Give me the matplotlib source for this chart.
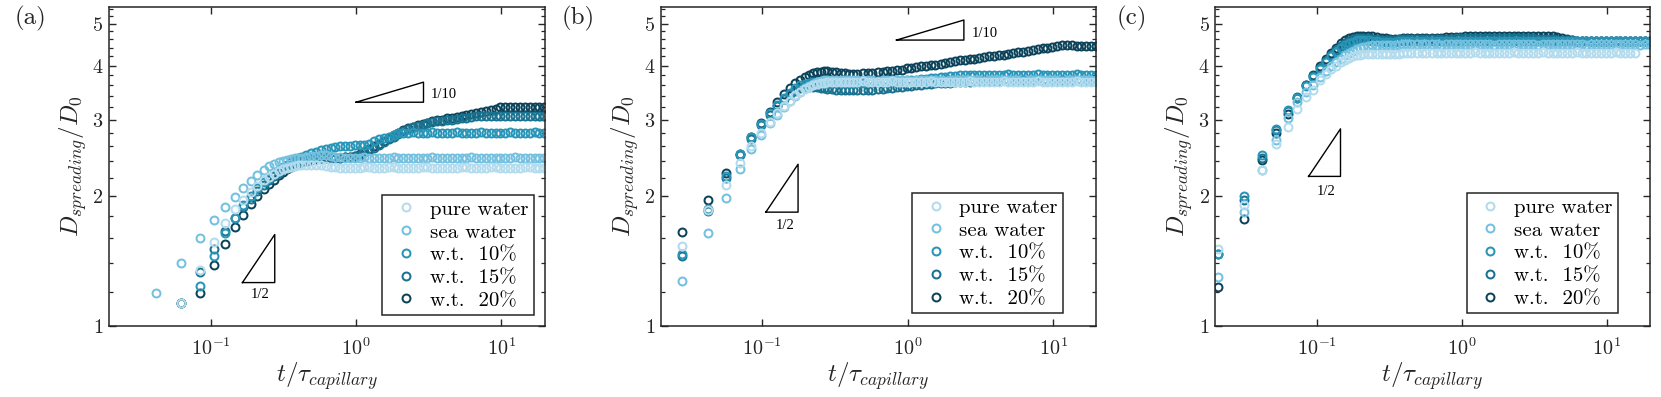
import numpy as np
import matplotlib
matplotlib.use('Agg')
import matplotlib.pyplot as plt
from matplotlib.ticker import FixedLocator, FuncFormatter, NullFormatter, NullLocator

plt.rcParams['mathtext.fontset'] = 'cm'
plt.rcParams['font.family'] = 'serif'
plt.rcParams['font.serif'] = ['cmr10', 'DejaVu Serif']
plt.rcParams['axes.formatter.use_mathtext'] = True

nan = float('nan')

labels = ['pure water', 'sea water', 'w.t.  10%', 'w.t.  15%', 'w.t.  20%']
colors = ['#b3dbee', '#74c0df', '#2795b8', '#19728f', '#0b435b']

# shared late-time grid (t / tau_capillary)
t_tail = [0.45, 0.49, 0.53, 0.57, 0.62, 0.67, 0.72, 0.78, 0.84, 0.91,
          0.98, 1.06, 1.14, 1.23, 1.33, 1.44, 1.55, 1.68, 1.81, 1.95,
          2.11, 2.28, 2.46, 2.66, 2.87, 3.1, 3.35, 3.62, 3.91, 4.22,
          4.56, 4.92, 5.32, 5.74, 6.2, 6.7, 7.23, 7.81, 8.44, 9.11,
          9.84, 10.6, 11.5, 12.4, 13.4, 14.5, 15.6, 16.9, 18.2, 19.7]

# ---- panel (a)
t_a = [0.042, 0.063, 0.084, 0.105, 0.126, 0.147, 0.168, 0.189, 0.21, 0.231,
       0.252, 0.273, 0.294, 0.315, 0.336, 0.357, 0.378, 0.399, 0.42] + t_tail
pure_a = [nan, 1.13, 1.35, 1.56, 1.73, 1.86, 1.96, 2.04, 2.11, 2.17,
          2.21, 2.25, 2.28, 2.30, 2.32, 2.33, 2.34, 2.35, 2.35,
          2.36, 2.36, 2.35, 2.35, 2.34, 2.33, 2.33, 2.32, 2.32, 2.32,
          2.32, 2.32, 2.33, 2.33, 2.32, 2.32, 2.32, 2.33, 2.33, 2.32,
          2.32, 2.32, 2.32, 2.32, 2.33, 2.33, 2.32, 2.32, 2.32, 2.32,
          2.32, 2.32, 2.33, 2.33, 2.32, 2.32, 2.32, 2.32, 2.33, 2.33,
          2.32, 2.32, 2.32, 2.32, 2.32, 2.33, 2.33, 2.32, 2.32, 2.32]
sea_a = [1.19, 1.40, 1.60, 1.76, 1.88, 1.99, 2.08, 2.16, 2.23, 2.29,
         2.34, 2.37, 2.39, 2.41, 2.42, 2.43, 2.44, 2.44, 2.45,
         2.46, 2.47, 2.47, 2.48, 2.48, 2.47, 2.46, 2.46, 2.45, 2.45,
         2.45, 2.45, 2.46, 2.45, 2.45, 2.44, 2.45, 2.45, 2.46, 2.45,
         2.45, 2.45, 2.44, 2.45, 2.45, 2.45, 2.46, 2.45, 2.45, 2.45,
         2.44, 2.45, 2.45, 2.45, 2.46, 2.45, 2.45, 2.45, 2.44, 2.45,
         2.45, 2.45, 2.45, 2.46, 2.45, 2.45, 2.45, 2.44, 2.45, 2.45]
wt10_a = [nan, nan, 1.24, 1.45, 1.64, 1.78, 1.90, 2.00, 2.08, 2.15,
          2.20, 2.25, 2.29, 2.33, 2.36, 2.39, 2.42, 2.44, 2.46,
          2.48, 2.51, 2.53, 2.55, 2.57, 2.58, 2.59, 2.60, 2.60, 2.61,
          2.62, 2.62, 2.62, 2.64, 2.67, 2.70, 2.72, 2.74, 2.77, 2.79,
          2.80, 2.80, 2.81, 2.80, 2.80, 2.80, 2.81, 2.80, 2.80, 2.80,
          2.80, 2.81, 2.80, 2.80, 2.80, 2.80, 2.81, 2.80, 2.80, 2.80,
          2.80, 2.80, 2.81, 2.80, 2.80, 2.80, 2.80, 2.81, 2.80, 2.80]
wt15_a = [nan, 1.13, 1.33, 1.51, 1.66, 1.78, 1.88, 1.97, 2.05, 2.12,
          2.17, 2.22, 2.26, 2.30, 2.33, 2.35, 2.37, 2.39, 2.41,
          2.42, 2.43, 2.44, 2.44, 2.45, 2.45, 2.45, 2.45, 2.46, 2.46,
          2.47, 2.49, 2.52, 2.55, 2.58, 2.62, 2.66, 2.70, 2.74, 2.78,
          2.82, 2.85, 2.88, 2.90, 2.92, 2.94, 2.96, 2.97, 2.98, 2.99,
          3.00, 3.01, 3.02, 3.03, 3.04, 3.05, 3.05, 3.05, 3.05, 3.05,
          3.05, 3.05, 3.05, 3.05, 3.05, 3.05, 3.05, 3.05, 3.05, 3.05]
wt20_a = [nan, 1.13, 1.19, 1.38, 1.55, 1.69, 1.81, 1.91, 2.00, 2.07,
          2.13, 2.18, 2.23, 2.27, 2.30, 2.33, 2.35, 2.37, 2.39,
          2.41, 2.42, 2.43, 2.44, 2.44, 2.45, 2.45, 2.45, 2.46, 2.46,
          2.47, 2.50, 2.53, 2.56, 2.60, 2.64, 2.68, 2.72, 2.76, 2.80,
          2.84, 2.87, 2.89, 2.91, 2.93, 2.95, 2.97, 2.99, 3.00, 3.02,
          3.03, 3.04, 3.06, 3.07, 3.09, 3.10, 3.12, 3.14, 3.16, 3.18,
          3.20, 3.21, 3.21, 3.21, 3.21, 3.21, 3.21, 3.21, 3.21, 3.21]

# ---- panel (b)
t_b = [0.028, 0.042, 0.056, 0.07, 0.084, 0.098, 0.112, 0.126, 0.14, 0.154,
       0.168, 0.182, 0.196, 0.21, 0.224, 0.238, 0.252, 0.266, 0.28, 0.3,
       0.32, 0.345, 0.37, 0.395, 0.42] + t_tail
pure_b = [1.53, 1.85, 2.12, 2.38, 2.60, 2.80, 2.96, 3.10, 3.22, 3.32,
          3.41, 3.48, 3.53, 3.57, 3.60, 3.62, 3.64, 3.65, 3.66, 3.67,
          3.67, 3.67, 3.67, 3.67, 3.67,
          3.67, 3.68, 3.67, 3.67, 3.66, 3.67, 3.67, 3.68, 3.67, 3.67,
          3.67, 3.67, 3.66, 3.67, 3.67, 3.68, 3.67, 3.67, 3.67, 3.66,
          3.67, 3.67, 3.67, 3.68, 3.67, 3.67, 3.66, 3.67, 3.67, 3.67,
          3.68, 3.67, 3.67, 3.67, 3.66, 3.67, 3.67, 3.68, 3.67, 3.67,
          3.67, 3.66, 3.67, 3.67, 3.67, 3.68, 3.67, 3.67, 3.67, 3.67]
sea_b = [1.27, 1.64, 1.98, 2.30, 2.56, 2.77, 2.94, 3.08, 3.20, 3.31,
         3.40, 3.48, 3.54, 3.59, 3.63, 3.66, 3.68, 3.70, 3.71, 3.71,
         3.71, 3.71, 3.70, 3.70, 3.70,
         3.70, 3.71, 3.70, 3.70, 3.69, 3.70, 3.70, 3.71, 3.70, 3.70,
         3.70, 3.69, 3.70, 3.70, 3.71, 3.70, 3.70, 3.70, 3.69, 3.70,
         3.70, 3.70, 3.71, 3.70, 3.70, 3.70, 3.69, 3.70, 3.70, 3.70,
         3.71, 3.70, 3.70, 3.70, 3.69, 3.70, 3.70, 3.71, 3.70, 3.70,
         3.70, 3.70, 3.69, 3.70, 3.70, 3.71, 3.70, 3.70, 3.70, 3.70]
wt10_b = [1.47, 1.86, 2.22, 2.50, 2.73, 2.93, 3.10, 3.24, 3.36, 3.46,
          3.54, 3.60, 3.63, 3.65, 3.66, 3.66, 3.66, 3.65, 3.65, 3.64,
          3.64, 3.64, 3.64, 3.64, 3.65,
          3.65, 3.65, 3.66, 3.66, 3.67, 3.67, 3.68, 3.68, 3.69, 3.69,
          3.70, 3.70, 3.71, 3.72, 3.73, 3.74, 3.75, 3.76, 3.77, 3.78,
          3.79, 3.80, 3.80, 3.81, 3.81, 3.81, 3.81, 3.81, 3.81, 3.81,
          3.81, 3.82, 3.81, 3.81, 3.80, 3.81, 3.81, 3.82, 3.81, 3.81,
          3.81, 3.81, 3.80, 3.81, 3.81, 3.82, 3.81, 3.81, 3.81, 3.81]
wt15_b = [1.45, 1.84, 2.20, 2.48, 2.71, 2.91, 3.08, 3.22, 3.34, 3.43,
          3.50, 3.54, 3.56, 3.57, 3.57, 3.56, 3.55, 3.54, 3.53, 3.53,
          3.52, 3.52, 3.52, 3.52, 3.52,
          3.52, 3.52, 3.52, 3.52, 3.53, 3.53, 3.54, 3.55, 3.56, 3.57,
          3.58, 3.59, 3.60, 3.61, 3.62, 3.63, 3.64, 3.64, 3.65, 3.65,
          3.66, 3.66, 3.67, 3.67, 3.68, 3.68, 3.68, 3.69, 3.69, 3.69,
          3.70, 3.70, 3.70, 3.70, 3.70, 3.70, 3.71, 3.70, 3.70, 3.70,
          3.70, 3.70, 3.71, 3.70, 3.70, 3.70, 3.70, 3.71, 3.70, 3.70]
wt20_b = [1.65, 1.96, 2.26, 2.50, 2.73, 2.95, 3.13, 3.29, 3.43, 3.55,
          3.64, 3.71, 3.77, 3.81, 3.84, 3.86, 3.87, 3.88, 3.88, 3.87,
          3.86, 3.85, 3.84, 3.83, 3.83,
          3.83, 3.84, 3.84, 3.85, 3.86, 3.87, 3.88, 3.89, 3.90, 3.91,
          3.94, 3.95, 3.96, 3.98, 3.99, 4.01, 4.02, 4.04, 4.06, 4.08,
          4.09, 4.11, 4.12, 4.14, 4.15, 4.17, 4.18, 4.20, 4.21, 4.23,
          4.24, 4.26, 4.27, 4.29, 4.30, 4.32, 4.34, 4.36, 4.38, 4.40,
          4.42, 4.44, 4.46, 4.46, 4.45, 4.44, 4.43, 4.43, 4.43, 4.43]

# ---- panel (c)
t_c = [0.021, 0.0315, 0.042, 0.0525, 0.063, 0.0735, 0.084, 0.0945, 0.105, 0.1155,
       0.126, 0.1365, 0.147, 0.1575, 0.168, 0.1785, 0.189, 0.1995, 0.21, 0.225,
       0.24, 0.26, 0.28, 0.3, 0.32, 0.345, 0.37, 0.395, 0.42] + t_tail
pure_c = [1.51, 1.90, 2.29, 2.64, 2.88, 3.17, 3.39, 3.52, 3.70, 3.82,
          3.92, 4.00, 4.07, 4.12, 4.17, 4.20, 4.22, 4.24, 4.25, 4.26,
          4.26, 4.26, 4.25, 4.25, 4.25, 4.26, 4.26, 4.27, 4.27,
          4.27, 4.27, 4.28, 4.27, 4.28, 4.28, 4.28, 4.27, 4.28, 4.28,
          4.28, 4.28, 4.28, 4.29, 4.28, 4.28, 4.28, 4.28, 4.28, 4.28,
          4.28, 4.29, 4.28, 4.28, 4.28, 4.28, 4.28, 4.29, 4.28, 4.28,
          4.28, 4.28, 4.28, 4.28, 4.29, 4.28, 4.28, 4.28, 4.28, 4.28,
          4.28, 4.28, 4.29, 4.28, 4.28, 4.28, 4.28, nan, nan, nan]
sea_c = [1.30, 1.83, 2.29, 2.69, 3.02, 3.29, 3.48, 3.61, 3.76, 3.88,
         3.98, 4.07, 4.15, 4.22, 4.28, 4.33, 4.37, 4.40, 4.42, 4.44,
         4.45, 4.46, 4.46, 4.46, 4.47, 4.47, 4.47, 4.48, 4.48,
         4.48, 4.48, 4.49, 4.48, 4.48, 4.48, 4.47, 4.48, 4.48, 4.49,
         4.48, 4.48, 4.48, 4.48, 4.49, 4.48, 4.48, 4.47, 4.48, 4.48,
         4.48, 4.49, 4.48, 4.48, 4.48, 4.48, 4.47, 4.48, 4.48, 4.48,
         4.49, 4.48, 4.48, 4.48, 4.48, 4.48, 4.47, 4.48, 4.48, 4.48,
         4.48, 4.48, 4.49, 4.48, 4.48, 4.48, 4.48, 4.47, 4.48, 4.48]
wt10_c = [1.47, 2.00, 2.49, 2.86, 3.16, 3.37, 3.59, 3.76, 3.93, 4.07,
          4.20, 4.30, 4.38, 4.45, 4.50, 4.54, 4.57, 4.58, 4.58, 4.57,
          4.56, 4.55, 4.54, 4.54, 4.54, 4.54, 4.55, 4.55, 4.55,
          4.55, 4.55, 4.56, 4.55, 4.55, 4.55, 4.56, 4.55, 4.55, 4.55,
          4.56, 4.55, 4.55, 4.55, 4.55, 4.56, 4.55, 4.55, 4.55, 4.56,
          4.55, 4.55, 4.56, 4.55, 4.55, 4.55, 4.55, 4.56, 4.55, 4.55,
          4.55, 4.56, 4.55, 4.55, 4.55, 4.55, 4.56, 4.55, 4.55, 4.55,
          4.56, 4.55, 4.55, 4.55, 4.56, 4.55, 4.55, 4.55, 4.56, 4.55]
wt15_c = [1.47, 1.96, 2.45, 2.84, 3.14, 3.38, 3.60, 3.78, 3.95, 4.10,
          4.23, 4.34, 4.43, 4.50, 4.55, 4.60, 4.62, 4.63, 4.63, 4.62,
          4.61, 4.60, 4.59, 4.59, 4.59, 4.59, 4.60, 4.60, 4.60,
          4.60, 4.60, 4.61, 4.60, 4.60, 4.61, 4.61, 4.61, 4.61, 4.62,
          4.62, 4.62, 4.62, 4.62, 4.62, 4.62, 4.62, 4.62, 4.62, 4.62,
          4.62, 4.62, 4.62, 4.62, 4.62, 4.62, 4.61, 4.61, 4.61, 4.60,
          4.59, 4.58, 4.57, 4.57, 4.56, 4.56, 4.56, 4.56, 4.56, 4.56,
          4.56, 4.56, 4.56, 4.56, 4.56, 4.56, 4.56, 4.56, 4.56, 4.56]
wt20_c = [1.23, 1.77, 2.42, 2.79, 3.09, 3.37, 3.60, 3.80, 3.98, 4.14,
          4.28, 4.40, 4.50, 4.57, 4.62, 4.66, 4.68, 4.69, 4.69, 4.68,
          4.67, 4.65, 4.63, 4.62, 4.61, 4.61, 4.61, 4.62, 4.62,
          4.62, 4.62, 4.62, 4.63, 4.63, 4.64, 4.64, 4.65, 4.65, 4.66,
          4.66, 4.67, 4.67, 4.67, 4.67, 4.68, 4.68, 4.68, 4.68, 4.68,
          4.68, 4.68, 4.68, 4.68, 4.68, 4.68, 4.68, 4.67, 4.67, 4.67,
          4.65, 4.63, 4.60, 4.58, 4.56, 4.55, 4.55, 4.55, 4.55, 4.55,
          4.55, 4.55, 4.55, 4.55, 4.55, 4.55, 4.55, 4.55, 4.55, 4.55]

# slope guides: (t0, t1, D0, slope, label, label_t, label_D, ha)
guides_a = [(0.1655, 0.276, 1.26, 0.5, '1/2', 0.218, 1.18, 'center'),
            (1.0, 2.91, 3.29, 0.1, '1/10', 3.25, 3.43, 'left')]
guides_b = [(0.1057, 0.176, 1.833, 0.5, '1/2', 0.143, 1.71, 'center'),
            (0.836, 2.43, 4.58, 0.1, '1/10', 2.74, 4.74, 'left')]
guides_c = [(0.088, 0.146, 2.217, 0.5, '1/2', 0.1164, 2.045, 'center')]

panels = [
    ('(a)', t_a, [pure_a, sea_a, wt10_a, wt15_a, wt20_a], guides_a,
     [0.06562, 0.17884, 0.26225, 0.80428], (0.9757, 0.0345), 15),
    ('(b)', t_b, [pure_b, sea_b, wt10_b, wt15_b, wt20_b], guides_b,
     [0.39777, 0.17884, 0.26231, 0.80428], (0.9238, 0.040), 562),
    ('(c)', t_c, [pure_c, sea_c, wt10_c, wt15_c, wt20_c], guides_c,
     [0.73162, 0.17884, 0.26171, 0.80428], (0.9269, 0.040), 1117),
]

ink = '#262626'
fig = plt.figure(figsize=(16.61, 3.97), dpi=100)

for tag, t, series, guides, rect, anchor, tag_x in panels:
    ax = fig.add_axes(rect)
    # darkest first so the light series sit on top
    for k in range(4, -1, -1):
        ax.plot(t, np.array(series[k], dtype=float), 'o', ls='none', mfc='none',
                mec=colors[k], ms=5.7, mew=1.45, label=labels[k])

    for t0, t1, d0, s, txt, lt, ld, ha in guides:
        d1 = d0 * (t1 / t0) ** s
        ax.plot([t0, t1, t1, t0], [d0, d0, d1, d0], color='k', lw=1.0)
        ax.text(lt, ld, txt, ha=ha, va='center', fontsize=10.5,
                family='Liberation Serif')

    ax.set_xscale('log')
    ax.set_yscale('log')
    ax.set_xlim(0.02, 19.8)
    ax.set_ylim(1, 5.47)
    ax.xaxis.set_major_locator(FixedLocator([0.1, 1, 10]))
    ax.xaxis.set_minor_locator(NullLocator())
    ax.xaxis.set_major_formatter(FuncFormatter(
        lambda v, p: r'$10^{%d}$' % int(round(np.log10(v)))))
    ax.yaxis.set_major_locator(FixedLocator([1, 2, 3, 4, 5]))
    ax.yaxis.set_minor_locator(FixedLocator(
        [v for v in np.arange(1.2, 5.5, 0.2) if abs(v - round(v)) > 0.05]))
    ax.yaxis.set_major_formatter(FuncFormatter(lambda v, p: r'$%d$' % round(v)))
    ax.yaxis.set_minor_formatter(NullFormatter())

    ax.tick_params(which='both', direction='in', top=True, right=True,
                   color=ink, labelcolor=ink, labelsize=14.5)
    ax.tick_params(which='major', length=5, width=1.0)
    ax.tick_params(which='minor', length=3, width=0.9)
    ax.tick_params(axis='x', pad=8)
    ax.tick_params(axis='y', pad=4)
    for sp in ax.spines.values():
        sp.set_linewidth(1.1)
        sp.set_color(ink)

    ax.set_xlabel(r'$t/\tau_{capillary}$', fontsize=18, color=ink, labelpad=1)
    ax.set_ylabel(r'$D_{spreading}/D_0$', fontsize=18, color=ink, labelpad=2)

    h, l = ax.get_legend_handles_labels()
    leg = ax.legend(h[::-1], l[::-1], loc='lower right', bbox_to_anchor=anchor,
                    borderaxespad=0, fancybox=False, framealpha=1,
                    edgecolor=ink, numpoints=1, handlelength=1.8,
                    handletextpad=0.25, borderpad=0.25, labelspacing=0.2,
                    prop={'family': 'cmr10', 'size': 15})
    leg.get_frame().set_linewidth(1.1)

    fig.text(tag_x / 1661, 1 - 6 / 397, tag, ha='left', va='top',
             fontsize=18, family='cmr10', color=ink)

fig.savefig('out.png', dpi=100)
